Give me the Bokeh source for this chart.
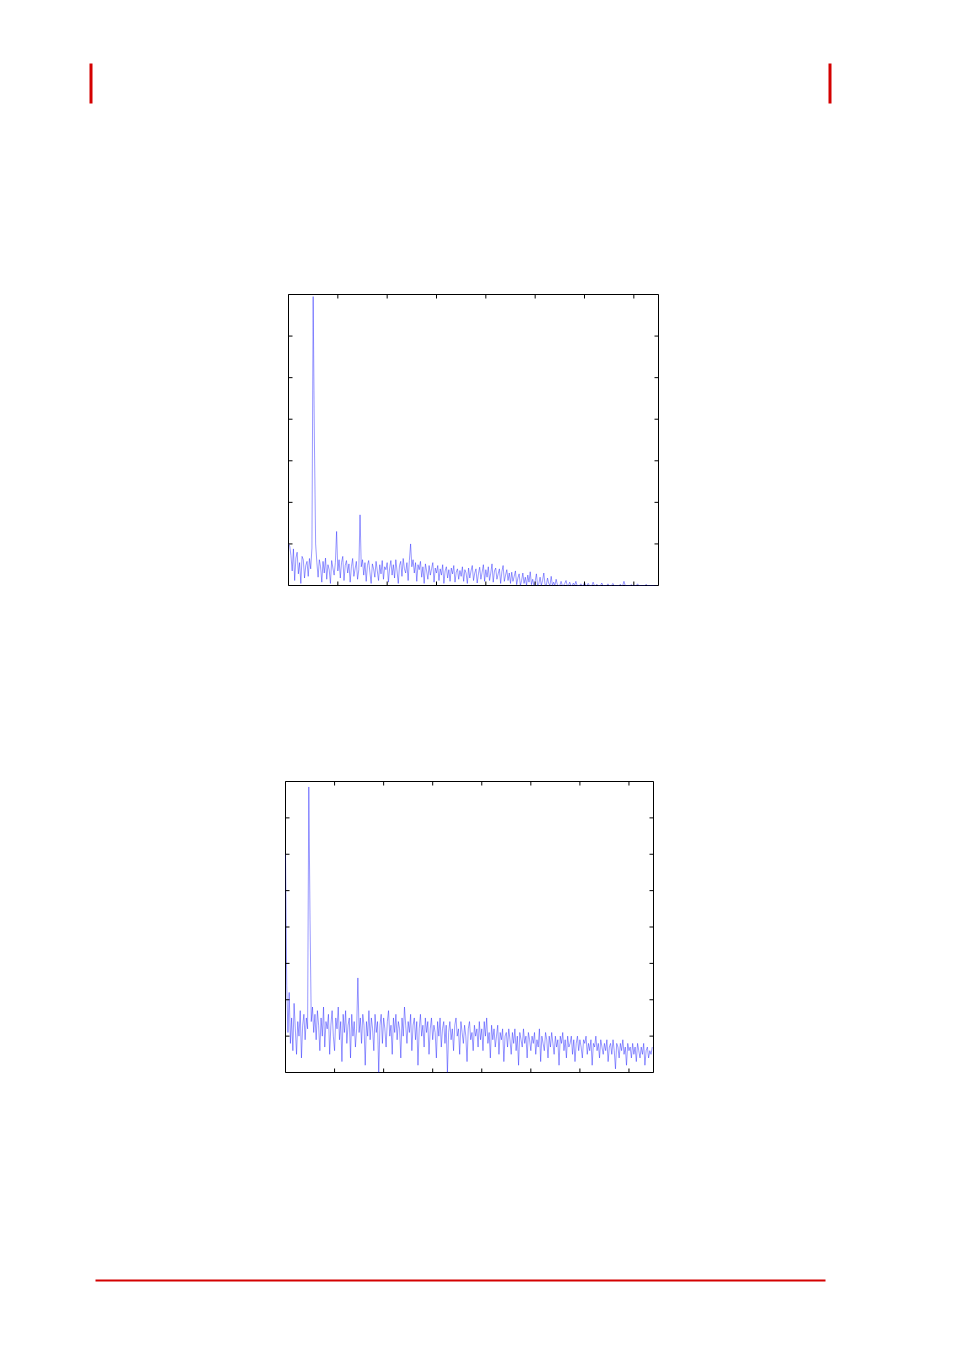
import numpy as np
from bokeh.plotting import figure
from bokeh.layouts import column, row
from bokeh.models import Range1d, Spacer
from bokeh.embed import file_html
from bokeh.resources import INLINE

# ---------------- data ----------------
freq_step = 0.025
x_ticks = [0, 1, 2, 3, 4, 5, 6, 7]
y_ticks_top = [0, 1, 2, 3, 4, 5, 6, 7]
y_ticks_bottom = [0, 1, 2, 3, 4, 5, 6, 7, 8]

spectrum_top = [
    1.00, 0.95, 0.72, 0.35, 0.88, 0.12, 0.66, 0.80, 0.28, 0.55, 0.05, 0.70, 0.62, 0.18, 0.48, 0.58, 0.22, 0.65, 0.40, 0.90,
    6.95, 3.50, 1.00, 0.55, 0.20, 0.62, 0.45, 0.08, 0.58, 0.30, 0.66, 0.15, 0.50, 0.38, 0.05, 0.60, 0.42, 0.25, 0.55, 1.30,
    0.35, 0.62, 0.18, 0.55, 0.70, 0.12, 0.48, 0.60, 0.30, 0.52, 0.08, 0.45, 0.65, 0.22, 0.40, 0.58, 0.15, 0.38, 1.70, 0.45,
    0.62, 0.25, 0.55, 0.10, 0.48, 0.60, 0.32, 0.05, 0.52, 0.40, 0.20, 0.58, 0.35, 0.12, 0.50, 0.28, 0.60, 0.15, 0.45, 0.38,
    0.55, 0.08, 0.42, 0.60, 0.25, 0.50, 0.18, 0.62, 0.35, 0.05, 0.48, 0.58, 0.22, 0.65, 0.40, 0.30, 0.55, 0.12, 0.60, 1.00,
    0.45, 0.62, 0.30, 0.55, 0.10, 0.50, 0.38, 0.58, 0.20, 0.45, 0.05, 0.52, 0.35, 0.15, 0.48, 0.25, 0.40, 0.55, 0.08, 0.42,
    0.30, 0.48, 0.12, 0.40, 0.25, 0.50, 0.05, 0.35, 0.45, 0.18, 0.38, 0.10, 0.42, 0.28, 0.48, 0.08, 0.32, 0.40, 0.15, 0.36,
    0.22, 0.45, 0.10, 0.38, 0.30, 0.05, 0.42, 0.18, 0.35, 0.48, 0.12, 0.30, 0.40, 0.06, 0.28, 0.44, 0.15, 0.32, 0.50, 0.10,
    0.38, 0.20, 0.45, 0.12, 0.30, 0.52, 0.08, 0.35, 0.42, 0.15, 0.28, 0.40, 0.05, 0.33, 0.48, 0.10, 0.25, 0.38, 0.12, 0.30,
    0.05, 0.32, 0.10, 0.22, 0.35, 0.02, 0.18, 0.28, 0.00, 0.12, 0.30, 0.05, 0.20, 0.00, 0.25, 0.08, 0.33, 0.02, 0.15, 0.00,
    0.10, 0.28, 0.00, 0.05, 0.20, 0.00, 0.12, 0.30, 0.02, 0.00, 0.18, 0.05, 0.00, 0.22, 0.00, 0.08, 0.00, 0.15, 0.02, 0.00,
    0.00, 0.10, 0.00, 0.00, 0.05, 0.12, 0.00, 0.00, 0.08, 0.00, 0.00, 0.06, 0.00, 0.10, 0.00, 0.00, 0.00, 0.04, 0.00, 0.00,
    0.07, 0.00, 0.00, 0.05, 0.00, 0.00, 0.00, 0.08, 0.00, 0.00, 0.03, 0.00, 0.00, 0.00, 0.06, 0.00, 0.00, 0.00, 0.00, 0.04,
    0.00, 0.00, 0.00, 0.05, 0.00, 0.00, 0.00, 0.00, 0.00, 0.03, 0.00, 0.00, 0.10, 0.00, 0.00, 0.00, 0.00, 0.00, 0.02, 0.00,
    0.00, 0.00, 0.00, 0.04, 0.00, 0.00, 0.00, 0.00, 0.00, 0.00, 0.03, 0.00, 0.00, 0.00, 0.00, 0.00, 0.00, 0.00, 0.00, 0.00,
]

spectrum_bottom = [
    6.0, 2.4, 1.1, 2.2, 0.8, 1.5, 0.6, 1.9, 1.2, 0.5, 1.4, 1.0, 1.7, 0.4, 1.3, 1.6, 0.9, 1.5, 1.2, 7.85,
    4.2, 1.4, 1.8, 1.1, 1.6, 0.9, 1.7, 1.3, 0.6, 1.5, 1.0, 1.8, 0.7, 1.4, 1.2, 1.6, 0.5, 1.3, 1.7, 1.0,
    0.6, 1.5, 1.2, 1.8, 0.9, 1.4, 0.3, 1.6, 1.1, 1.7, 0.8, 1.3, 1.5, 0.4, 1.6, 1.0, 1.4, 0.7, 1.2, 2.6,
    1.1, 1.5, 0.8, 1.6, 1.3, 0.2, 1.4, 1.0, 1.7, 0.9, 1.5, 1.2, 0.6, 1.6, 1.1, 1.4, 0.0, 1.3, 1.6, 0.8,
    1.5, 1.2, 0.7, 1.4, 1.7, 1.0, 1.3, 0.5, 1.5, 1.1, 1.6, 0.9, 1.4, 1.2, 0.4, 1.5, 1.0, 1.8, 1.3, 0.8,
    1.4, 1.1, 1.6, 0.6, 1.3, 1.5, 0.9, 1.4, 0.2, 1.2, 1.6, 1.0, 1.3, 0.7, 1.5, 1.1, 1.4, 0.5, 1.2, 1.5,
    0.9, 1.3, 1.1, 0.4, 1.4, 1.0, 1.5, 0.7, 1.2, 1.4, 0.8, 1.3, 0.0, 1.1, 1.4, 0.9, 1.2, 0.6, 1.3, 1.5,
    1.0, 1.2, 0.5, 1.4, 1.1, 0.8, 1.3, 1.0, 0.3, 1.2, 1.4, 0.9, 1.1, 0.6, 1.3, 1.0, 1.2, 0.7, 1.4, 0.9,
    1.2, 0.6, 1.4, 1.0, 1.5, 0.8, 1.1, 0.4, 1.3, 0.9, 1.2, 0.7, 1.0, 1.3, 0.5, 1.1, 0.9, 1.2, 0.3, 1.0,
    1.1, 0.7, 1.2, 0.9, 0.5, 1.1, 0.8, 1.2, 0.6, 1.0, 0.2, 1.1, 0.9, 0.7, 1.2, 0.8, 1.0, 0.4, 1.1, 0.9,
    0.6, 1.0, 0.8, 1.1, 0.5, 0.9, 0.7, 1.2, 0.3, 1.0, 0.8, 0.6, 1.1, 0.9, 0.4, 1.0, 0.7, 1.1, 0.8, 0.5,
    1.0, 0.7, 0.9, 0.2, 1.0, 0.8, 1.1, 0.6, 0.9, 0.4, 1.0, 0.7, 0.8, 1.0, 0.5, 0.9, 0.3, 0.8, 1.0, 0.6,
    0.9, 0.7, 0.4, 0.9, 0.8, 1.0, 0.5, 0.8, 0.6, 0.9, 0.2, 0.8, 0.7, 1.0, 0.6, 0.8, 0.4, 0.9, 0.7, 0.5,
    0.8, 0.6, 0.9, 0.3, 0.7, 0.8, 0.5, 0.9, 0.6, 0.1, 0.8, 0.7, 0.4, 0.8, 0.6, 0.9, 0.5, 0.7, 0.2, 0.8,
    0.6, 0.7, 0.4, 0.8, 0.5, 0.7, 0.3, 0.8, 0.6, 0.4, 0.7, 0.5, 0.8, 0.2, 0.6, 0.7, 0.4, 0.6, 0.5, 0.7,
]

freq_top = np.arange(len(spectrum_top)) * freq_step
freq_bottom = np.arange(len(spectrum_bottom)) * freq_step

RED = "#d40000"
LINE = "#1e1eff"
PAGE_W = 946
X_MAX = 7.5


def spectrum_plot(xs, ys, ymax, yticks, fw, fh):
    b = 20
    p = figure(width=fw + 2 * b, height=fh + 2 * b, output_backend="svg",
               toolbar_location=None, x_range=Range1d(0, X_MAX), y_range=Range1d(0, ymax),
               min_border_left=b, min_border_right=b, min_border_top=b, min_border_bottom=b,
               x_axis_location=None, y_axis_location=None)
    p.grid.visible = False
    p.outline_line_color = "black"
    p.outline_line_width = 1
    p.background_fill_color = "white"
    p.border_fill_color = "white"
    p.line(xs, ys, line_color=LINE, line_width=0.6, line_alpha=0.75)
    # inward ticks on all four sides (half of each dash is clipped by the frame)
    n_x = len(x_ticks)
    n_y = len(yticks)
    p.scatter(x=x_ticks + x_ticks, y=[0] * n_x + [ymax] * n_x, marker="dash",
              angle=np.pi / 2, size=8, line_color="black", line_width=1)
    p.scatter(x=[0] * n_y + [X_MAX] * n_y, y=yticks + yticks, marker="dash",
              size=8, line_color="black", line_width=1)
    return p


def deco_fig(h, y0):
    f = figure(width=PAGE_W, height=h, output_backend="svg", toolbar_location=None,
               x_range=Range1d(0, PAGE_W), y_range=Range1d(y0 + h, y0),
               min_border=0, x_axis_location=None, y_axis_location=None)
    f.grid.visible = False
    f.outline_line_color = None
    return f


header = deco_fig(150, 8)
header.quad(left=[89, 828], right=[92, 831], top=[63, 63], bottom=[103, 103],
            fill_color=RED, line_color=None)

p1 = spectrum_plot(freq_top, spectrum_top, 7, y_ticks_top, 370, 291)
p2 = spectrum_plot(freq_bottom, spectrum_bottom, 8, y_ticks_bottom, 368, 291)

footer = deco_fig(252, 1092)
footer.quad(left=[95], right=[825], top=[1279], bottom=[1281], fill_color=RED, line_color=None)

layout = column(
    Spacer(height=8),
    header,
    Spacer(height=116),
    row(Spacer(width=268), p1),
    Spacer(height=156),
    row(Spacer(width=265), p2),
    footer,
    spacing=0,
)

open("out.html", "w").write(file_html(layout, INLINE))
